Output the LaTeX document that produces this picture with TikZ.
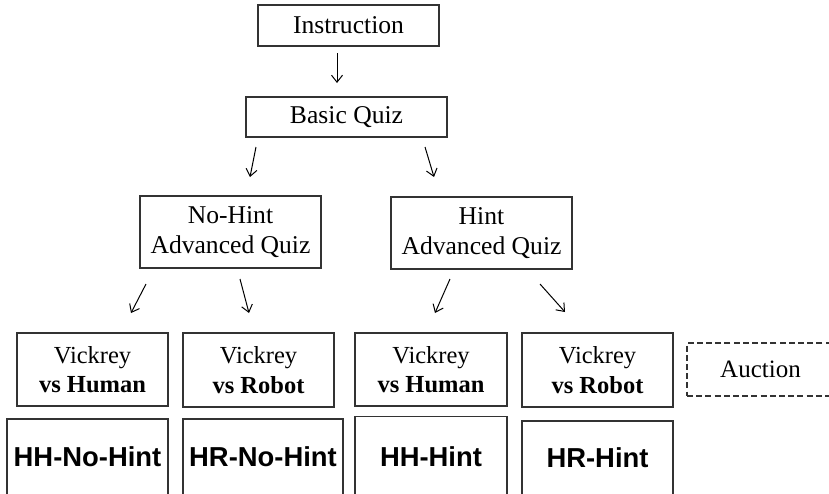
\documentclass[tikz,border=0pt]{standalone}
\usepackage{fontspec}
\setmainfont{Liberation Serif}
\newfontfamily\arialfont{Liberation Sans}
\usetikzlibrary{arrows.meta}
\tikzset{
  box/.style={draw=black!80, line width=0.65pt, inner sep=0pt, align=center,
    font=\fontsize{12.25pt}{14.75pt}\selectfont},
  tbox/.style={box, font=\fontsize{12.8pt}{15pt}\selectfont},
  hbox/.style={draw=black!80, line width=0.65pt, inner sep=0pt, align=center,
    font=\arialfont\bfseries\fontsize{13.7pt}{16pt}\selectfont},
  dbox/.style={box, font=\fontsize{12.5pt}{15pt}\selectfont, dash pattern=on 3pt off 1.6pt},
  arr/.style={line width=0.5pt, -{Straight Barb[length=3.5pt,width=5.5pt]}}
}
\begin{document}
\begin{tikzpicture}[x=0.5pt,y=-0.5pt]
\useasboundingbox (0,0) rectangle (829,493);
\clip (0,0) rectangle (829,493);
% nodes
\node[tbox, minimum width=90.5pt, minimum height=20.5pt] (inst) at (348.5,25.5) {Instruction};
\node[tbox, minimum width=100.5pt, minimum height=20pt] (basic) at (346.5,117) {Basic Quiz};
\node[tbox, minimum width=90.5pt, minimum height=36pt] (nohint) at (230.5,232) {No-Hint\\Advanced Quiz};
\node[tbox, minimum width=90.5pt, minimum height=36pt] (hint) at (481.5,233) {Hint\\Advanced Quiz};
\node[box, minimum width=75.5pt, minimum height=36.5pt] (v1) at (92.5,369.5) {Vickrey\\\textbf{vs Human}};
\node[box, minimum width=75.5pt, minimum height=37pt] (v2) at (258.5,370) {Vickrey\\\textbf{vs Robot}};
\node[box, minimum width=76pt, minimum height=36.5pt] (v3) at (431,369.5) {Vickrey\\\textbf{vs Human}};
\node[box, minimum width=75.5pt, minimum height=37pt] (v4) at (597.5,370) {Vickrey\\\textbf{vs Robot}};
\node[dbox, minimum width=73.5pt, minimum height=26.5pt] (auction) at (760.5,369.5) {Auction};
\node[hbox, minimum width=80.5pt, minimum height=38pt] (h1) at (87.5,457) {HH-No-Hint};
\node[hbox, minimum width=80pt, minimum height=38pt] (h2) at (263,457) {HR-No-Hint};
\node[hbox, minimum width=76pt, minimum height=40pt] (h3) at (431,456.5) {HH-Hint};
\node[hbox, minimum width=75.5pt, minimum height=37pt] (h4) at (597.5,458) {HR-Hint};
% arrow end points
\coordinate (a1s) at (337,53);  \coordinate (a1e) at (337,83);
\coordinate (a2s) at (256,147); \coordinate (a2e) at (250,177);
\coordinate (a3s) at (425,147); \coordinate (a3e) at (434,177);
\coordinate (a4s) at (146,284); \coordinate (a4e) at (131,313);
\coordinate (a5s) at (240,279); \coordinate (a5e) at (249,313);
\coordinate (a6s) at (450,279); \coordinate (a6e) at (435,313);
\coordinate (a7s) at (540,284); \coordinate (a7e) at (565,312);
\draw[arr] (a1s) -- (a1e);
\draw[arr] (a2s) -- (a2e);
\draw[arr] (a3s) -- (a3e);
\draw[arr] (a4s) -- (a4e);
\draw[arr] (a5s) -- (a5e);
\draw[arr] (a6s) -- (a6e);
\draw[arr] (a7s) -- (a7e);
\end{tikzpicture}
\end{document}
